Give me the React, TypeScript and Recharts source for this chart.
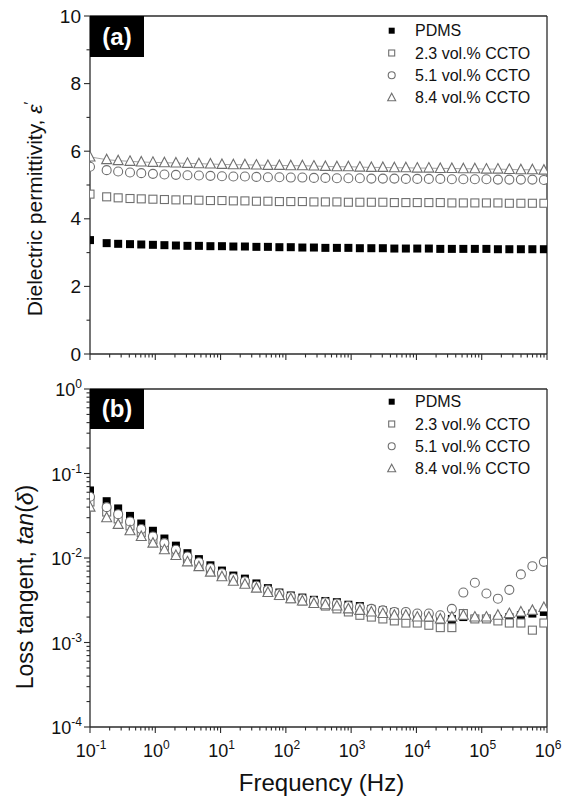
import { ScatterChart, Scatter, XAxis, YAxis, ReferenceLine, Legend, Label } from 'recharts';

// measurement frequencies (Hz)
const freqHz = [
  0.1, 0.18, 0.27, 0.41, 0.61, 0.92, 1.38, 2.07, 3.11, 4.66,
  6.99, 10.5, 15.7, 23.6, 35.4, 53.1, 79.6, 119, 179, 269,
  403, 605, 907, 1360, 2040, 3060, 4590, 6890, 10300, 15500,
  23200, 34900, 52300, 78500, 118000, 177000, 265000, 398000, 597000, 896000,
];

// dielectric permittivity
const epsPdms = [
  3.37, 3.28, 3.26, 3.25, 3.24, 3.23, 3.22, 3.21, 3.2, 3.2,
  3.19, 3.19, 3.18, 3.18, 3.17, 3.17, 3.16, 3.16, 3.15, 3.15,
  3.14, 3.14, 3.14, 3.13, 3.13, 3.13, 3.12, 3.12, 3.12, 3.12,
  3.11, 3.11, 3.11, 3.11, 3.11, 3.1, 3.1, 3.1, 3.1, 3.1,
];
const eps23 = [
  4.73, 4.65, 4.62, 4.6, 4.59, 4.58, 4.57, 4.56, 4.56, 4.55,
  4.54, 4.54, 4.53, 4.53, 4.52, 4.52, 4.51, 4.51, 4.51, 4.5,
  4.5, 4.5, 4.49, 4.49, 4.49, 4.49, 4.48, 4.48, 4.48, 4.48,
  4.48, 4.47, 4.47, 4.47, 4.47, 4.47, 4.46, 4.46, 4.46, 4.46,
];
const eps51 = [
  5.54, 5.44, 5.4, 5.37, 5.35, 5.33, 5.31, 5.3, 5.29, 5.28,
  5.27, 5.26, 5.25, 5.25, 5.24, 5.23, 5.23, 5.22, 5.22, 5.21,
  5.21, 5.2, 5.2, 5.2, 5.19, 5.19, 5.19, 5.18, 5.18, 5.18,
  5.18, 5.17, 5.17, 5.17, 5.17, 5.16, 5.16, 5.16, 5.16, 5.15,
];
const eps84 = [
  5.83, 5.75, 5.72, 5.7, 5.68, 5.67, 5.66, 5.65, 5.64, 5.63,
  5.62, 5.61, 5.6, 5.6, 5.59, 5.58, 5.58, 5.57, 5.57, 5.56,
  5.55, 5.54, 5.54, 5.53, 5.52, 5.52, 5.51, 5.51, 5.5, 5.5,
  5.49, 5.49, 5.48, 5.48, 5.47, 5.47, 5.46, 5.45, 5.45, 5.44,
];

// loss tangent
const tanPdms = [
  0.063, 0.047, 0.0386, 0.0315, 0.0256, 0.021, 0.017, 0.014, 0.0114, 0.0097,
  0.0082, 0.0071, 0.0062, 0.0057, 0.005, 0.0044, 0.0039, 0.0036, 0.0034, 0.0032,
  0.0031, 0.003, 0.0028, 0.0027, 0.0025, 0.0024, 0.0023, 0.0022, 0.0021, 0.002,
  0.002, 0.0019, 0.002, 0.0019, 0.0019, 0.0019, 0.002, 0.0021, 0.0022, 0.0023,
];
const tan23 = [
  0.046, 0.035, 0.029, 0.024, 0.02, 0.0165, 0.0138, 0.0116, 0.0097, 0.0083,
  0.0071, 0.0062, 0.0055, 0.005, 0.0045, 0.004, 0.0036, 0.0033, 0.0031, 0.0029,
  0.0027, 0.0025, 0.0023, 0.0021, 0.002, 0.0019, 0.0018, 0.0017, 0.0017, 0.0016,
  0.0015, 0.0015, 0.0022, 0.0019, 0.0019, 0.0018, 0.0017, 0.0017, 0.0014, 0.0017,
];
const tan51 = [
  0.053, 0.04, 0.033, 0.027, 0.022, 0.018, 0.015, 0.0125, 0.0104, 0.0089,
  0.0076, 0.0066, 0.0058, 0.0053, 0.0047, 0.0042, 0.0038, 0.0035, 0.0033, 0.0031,
  0.003, 0.0029, 0.0027, 0.0026, 0.0025, 0.0024, 0.0023, 0.0023, 0.0022, 0.0022,
  0.0021, 0.0025, 0.0039, 0.0051, 0.0038, 0.0033, 0.0042, 0.0064, 0.008, 0.009,
];
const tan84 = [
  0.04, 0.03, 0.025, 0.021, 0.018, 0.015, 0.0125, 0.0107, 0.009, 0.0079,
  0.0068, 0.006, 0.0053, 0.0049, 0.0044, 0.0039, 0.0036, 0.0033, 0.0031, 0.0029,
  0.0028, 0.0027, 0.0025, 0.0024, 0.0023, 0.0022, 0.0021, 0.0021, 0.002, 0.002,
  0.0019, 0.002, 0.0021, 0.002, 0.002, 0.0021, 0.0022, 0.0023, 0.0024, 0.0026,
];

const seriesNames = ['PDMS', '2.3 vol.% CCTO', '5.1 vol.% CCTO', '8.4 vol.% CCTO'];
const permTicks = [0, 1, 2, 3, 4, 5, 6, 7, 8, 9, 10];

const FONT = '"Liberation Sans", Arial, sans-serif';
const AXIS = '#2b2b2b';
const GREY = '#6f6f6f';
const INK = '#111';

const decadeTicks = (lo: number, hi: number) => {
  const out: number[] = [];
  for (let e = lo; e < hi; e++) for (let m = 1; m < 10; m++) out.push(m * 10 ** e);
  out.push(10 ** hi);
  return out;
};
const freqTicks = decadeTicks(-1, 6);
const lossTicks = decadeTicks(-4, 0);

const isDecade = (v: number) => Math.abs(Math.log10(v) - Math.round(Math.log10(v))) < 1e-9;
const toPoints = (ys: number[]) => ys.map((v, i) => ({ f: freqHz[i], v }));

type Dot = { cx?: number; cy?: number };

const filledSquare = (s: number) => ({ cx = 0, cy = 0 }: Dot) => (
  <rect x={cx - s / 2} y={cy - s / 2} width={s} height={s} fill="#000" />
);
const openSquare = (s: number) => ({ cx = 0, cy = 0 }: Dot) => (
  <rect x={cx - s / 2} y={cy - s / 2} width={s} height={s} fill="#fff" stroke={GREY} strokeWidth={1.1} />
);
const openCircle = (s: number) => ({ cx = 0, cy = 0 }: Dot) => (
  <circle cx={cx} cy={cy} r={s / 2} fill="#fff" stroke={GREY} strokeWidth={1.1} />
);
const openTriangle = (s: number) => ({ cx = 0, cy = 0 }: Dot) => (
  <path
    d={`M${cx},${cy - s * 0.55}L${cx + s / 2},${cy + s * 0.4}L${cx - s / 2},${cy + s * 0.4}Z`}
    fill="#fff"
    stroke={GREY}
    strokeWidth={1.1}
  />
);

const markerShapes = [filledSquare, openSquare, openCircle, openTriangle];
const legendSizes = [6, 6, 7, 8];

function LegendBox() {
  return (
    <svg width={180} height={92} style={{ display: 'block' }}>
      {seriesNames.map((name, i) => {
        const cy = 10.7 + i * 22.3;
        const Shape = markerShapes[i](legendSizes[i]);
        return (
          <g key={name}>
            {Shape({ cx: 11.7, cy })}
            <text x={35} y={cy + 5.5} fontSize={16} fill={INK} fontFamily={FONT}>
              {name}
            </text>
          </g>
        );
      })}
    </svg>
  );
}

function FreqTick(props: any) {
  const { x, y, payload, showLabel } = props;
  const v = payload.value as number;
  const major = isDecade(v);
  const e = Math.round(Math.log10(v));
  return (
    <g>
      <line x1={x} x2={x} y1={y} y2={y + (major ? 6 : 3.5)} stroke={AXIS} strokeWidth={1.1} />
      {major && showLabel && (
        <text x={x + 1} y={y + 30} textAnchor="middle" fontSize={18} fill={INK} fontFamily={FONT}>
          10
          <tspan dy={-8} fontSize={12}>
            {e}
          </tspan>
        </text>
      )}
    </g>
  );
}

function PermTick(props: any) {
  const { x, y, payload } = props;
  const v = payload.value as number;
  const major = v % 2 === 0;
  return (
    <g>
      <line x1={x} x2={x - (major ? 6 : 3.5)} y1={y} y2={y} stroke={AXIS} strokeWidth={1.1} />
      {major && (
        <text x={x - 9} y={y + 6.5} textAnchor="end" fontSize={19} fill={INK} fontFamily={FONT}>
          {v}
        </text>
      )}
    </g>
  );
}

function LossTick(props: any) {
  const { x, y, payload } = props;
  const v = payload.value as number;
  const major = isDecade(v);
  const e = Math.round(Math.log10(v));
  return (
    <g>
      <line x1={x} x2={x - (major ? 6 : 3.5)} y1={y} y2={y} stroke={AXIS} strokeWidth={1.1} />
      {major && (
        <text x={x - 8} y={y + 7} textAnchor="end" fontSize={18} fill={INK} fontFamily={FONT}>
          10
          <tspan dy={-8} fontSize={12}>
            {e}
          </tspan>
        </text>
      )}
    </g>
  );
}

function PanelTag({ text, top, height }: { text: string; top: number; height: number }) {
  return (
    <div
      style={{
        position: 'absolute',
        left: 90,
        top,
        width: 54,
        height,
        background: '#000',
        color: '#fff',
        fontWeight: 'bold',
        fontSize: 24,
        lineHeight: `${height}px`,
        textAlign: 'center',
        fontFamily: FONT,
      }}
    >
      {text}
    </div>
  );
}

const series = [epsPdms, eps23, eps51, eps84];
const lossSeries = [tanPdms, tan23, tan51, tan84];
const markerSizes = [8, 8, 9, 10];

export default function App() {
  return (
    <div style={{ position: 'absolute', left: 0, top: 0, width: 569, height: 797, background: '#fff', fontFamily: FONT }}>
      {/* (a) permittivity */}
      <div style={{ position: 'absolute', left: 0, top: 0 }}>
        <ScatterChart width={569} height={370} margin={{ top: 16, right: 22, bottom: 0, left: 0 }}>
          <XAxis
            dataKey="f"
            type="number"
            scale="log"
            domain={[0.1, 1e6]}
            allowDataOverflow
            ticks={freqTicks}
            interval={0}
            tickSize={0}
            tickMargin={0}
            tickLine={false}
            tick={(p: any) => <FreqTick {...p} showLabel={false} />}
            axisLine={{ stroke: AXIS, strokeWidth: 1.3 }}
            height={16}
          />
          <YAxis
            dataKey="v"
            type="number"
            domain={[0, 10]}
            allowDataOverflow
            ticks={permTicks}
            interval={0}
            tickSize={0}
            tickMargin={0}
            tickLine={false}
            tick={(p: any) => <PermTick {...p} />}
            axisLine={{ stroke: AXIS, strokeWidth: 1.3 }}
            width={90}
          >
            <Label
              content={(p: any) => {
                const vb = p.viewBox;
                return (
                  <text
                    transform={`translate(${vb.x + 42},${vb.y + vb.height / 2 + 24}) rotate(-90)`}
                    textAnchor="middle"
                    fontSize={21}
                    fill={INK}
                    fontFamily={FONT}
                  >
                    Dielectric permittivity, <tspan fontStyle="italic">ε</tspan>
                    <tspan dy={-8} fontSize={15}>′</tspan>
                  </text>
                );
              }}
            />
          </YAxis>
          <ReferenceLine y={10} stroke={AXIS} strokeWidth={1.3} />
          <ReferenceLine x={1e6} stroke={AXIS} strokeWidth={1.3} />
          {series.map((ys, i) => (
            <Scatter
              key={seriesNames[i]}
              name={seriesNames[i]}
              data={toPoints(ys)}
              shape={markerShapes[i](markerSizes[i])}
              line={i === 3 ? { stroke: '#8a8a8a', strokeWidth: 0.8 } : false}
              lineType="joint"
              isAnimationActive={false}
            />
          ))}
          <Legend
            layout="vertical"
            align="center"
            verticalAlign="middle"
            content={() => <LegendBox />}
            wrapperStyle={{ position: 'absolute', left: 380, top: 20, width: 180, height: 92 }}
          />
        </ScatterChart>
        <PanelTag text="(a)" top={16} height={41} />
      </div>

      {/* (b) loss tangent */}
      <div style={{ position: 'absolute', left: 0, top: 370 }}>
        <ScatterChart width={569} height={427} margin={{ top: 19, right: 22, bottom: 0, left: 0 }}>
          <XAxis
            dataKey="f"
            type="number"
            scale="log"
            domain={[0.1, 1e6]}
            allowDataOverflow
            ticks={freqTicks}
            interval={0}
            tickSize={0}
            tickMargin={0}
            tickLine={false}
            tick={(p: any) => <FreqTick {...p} showLabel />}
            axisLine={{ stroke: AXIS, strokeWidth: 1.3 }}
            height={70}
          >
            <Label
              content={(p: any) => {
                const vb = p.viewBox;
                return (
                  <text
                    x={vb.x + vb.width / 2 + 3}
                    y={vb.y + 64}
                    textAnchor="middle"
                    fontSize={24}
                    fill={INK}
                    fontFamily={FONT}
                  >
                    Frequency (Hz)
                  </text>
                );
              }}
            />
          </XAxis>
          <YAxis
            dataKey="v"
            type="number"
            scale="log"
            domain={[1e-4, 1]}
            allowDataOverflow
            ticks={lossTicks}
            interval={0}
            tickSize={0}
            tickMargin={0}
            tickLine={false}
            tick={(p: any) => <LossTick {...p} />}
            axisLine={{ stroke: AXIS, strokeWidth: 1.3 }}
            width={90}
          >
            <Label
              content={(p: any) => {
                const vb = p.viewBox;
                return (
                  <text
                    transform={`translate(${vb.x + 33},${vb.y + vb.height / 2 + 29}) rotate(-90)`}
                    textAnchor="middle"
                    fontSize={23}
                    fill={INK}
                    fontFamily={FONT}
                  >
                    Loss tangent, <tspan fontStyle="italic">tan</tspan>(<tspan fontStyle="italic">δ</tspan>)
                  </text>
                );
              }}
            />
          </YAxis>
          <ReferenceLine y={1} stroke={AXIS} strokeWidth={1.3} />
          <ReferenceLine x={1e6} stroke={AXIS} strokeWidth={1.3} />
          {lossSeries.map((ys, i) => (
            <Scatter
              key={seriesNames[i]}
              name={seriesNames[i]}
              data={toPoints(ys)}
              shape={markerShapes[i](markerSizes[i])}
              isAnimationActive={false}
            />
          ))}
          <Legend
            layout="vertical"
            align="center"
            verticalAlign="middle"
            content={() => <LegendBox />}
            wrapperStyle={{ position: 'absolute', left: 380, top: 21, width: 180, height: 92 }}
          />
        </ScatterChart>
        <PanelTag text="(b)" top={19} height={40} />
      </div>
    </div>
  );
}
